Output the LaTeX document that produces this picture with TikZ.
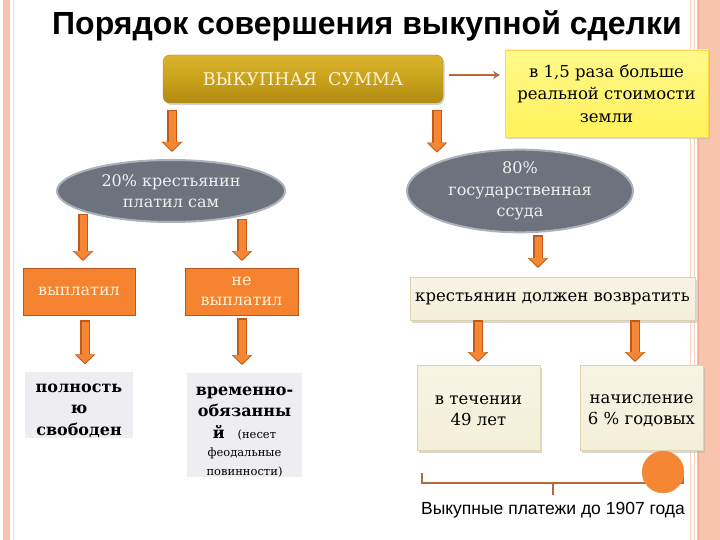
\documentclass[tikz,border=0pt]{standalone}
\usepackage{fontspec}
\setmainfont{DejaVu Serif}
\newfontfamily\sansf{Liberation Sans}
\usetikzlibrary{arrows.meta,shapes.geometric,shadows,calc}
\definecolor{salmon}{HTML}{F9C4AE}
\definecolor{salmonline}{HTML}{F2A88C}
\definecolor{gold}{HTML}{C9A21B}
\definecolor{goldlight}{HTML}{D9B42C}
\definecolor{golddark}{HTML}{B08A12}
\definecolor{yel}{HTML}{FFF25A}
\definecolor{yellight}{HTML}{FFF98A}
\definecolor{ellgray}{HTML}{6C727E}
\definecolor{orfill}{HTML}{F5822E}
\definecolor{ordark}{HTML}{B8581E}
\definecolor{arrfill}{HTML}{F58634}
\definecolor{arredge}{HTML}{C05A1C}
\definecolor{cream}{HTML}{F5EFD9}
\definecolor{creamedge}{HTML}{DDD3AE}
\definecolor{lgray}{HTML}{EDEDF2}
\definecolor{brown}{HTML}{B5693C}
\definecolor{lighttext}{HTML}{FFF3D6}
\begin{document}
\begin{tikzpicture}[x=1pt,y=-1pt,
  every node/.style={inner sep=0pt, outer sep=0pt},
  sumbox/.style={rectangle, rounded corners=7pt, top color=goldlight, bottom color=golddark, middle color=gold,
    draw=golddark, minimum width=280pt, minimum height=48pt,
    drop shadow={shadow xshift=1.5pt, shadow yshift=-2pt, fill=black!35},
    text=lighttext, font=\fontsize{17.5}{21}\selectfont},
  notebox/.style={rectangle, top color=yellight, bottom color=yel, draw=yel!80!orange,
    minimum width=203pt, minimum height=87pt, align=center,
    drop shadow={shadow xshift=2pt, shadow yshift=-2.5pt, fill=black!30},
    font=\fontsize{16.5}{22.5}\selectfont},
  ell/.style={ellipse, fill=ellgray, draw=ellgray!55!white, line width=2pt, align=center,
    text=white!94!black, font=\fontsize{16}{21.5}\selectfont},
  orbox/.style={rectangle, fill=orfill, draw=ordark, line width=0.8pt, align=center,
    minimum width=112pt, minimum height=47pt, text=lighttext, font=\fontsize{16}{20}\selectfont},
  graybox/.style={rectangle, fill=lgray, align=center, minimum width=108pt,
    font=\bfseries\fontsize{16}{21.5}\selectfont},
  creambox/.style={rectangle, top color=cream!70!white, bottom color=cream, draw=creamedge, line width=0.6pt,
    align=center, drop shadow={shadow xshift=2pt, shadow yshift=-2.5pt, fill=black!30},
    font=\fontsize{16.5}{21}\selectfont},
  barrowbg/.style={draw=arredge, line width=10pt, -{Triangle[width=20pt,length=10pt]}},
  barrow/.style={draw=arrfill, line width=7pt, -{Triangle[width=17pt,length=8.5pt]}},
  brownarrow/.style={draw=brown, line width=2.5pt, -{Stealth[length=7pt,width=8pt]}},
  bracket/.style={draw=brown, line width=1.2pt}
]
\useasboundingbox (0,0) rectangle (720,540);
\fill[white] (0,0) rectangle (720,540);
% decorative frame
\fill[salmon] (3,0) rectangle (10,540);
\draw[salmon!60!white, line width=1pt] (13.5,0) -- (13.5,540);
\draw[salmon!70!white, line width=1pt] (690,0) -- (690,540);
\draw[salmon!80!white, line width=1pt] (694,0) -- (694,540);
\fill[salmon] (697,0) rectangle (720,540);
\draw[salmonline, line width=1pt] (698,0) -- (698,540);

% title
\node (title) at (367,26) {\sansf\bfseries\fontsize{32}{36}\selectfont Порядок совершения выкупной сделки};

% main nodes
\node[sumbox] (sum) at (303,79) {ВЫКУПНАЯ\ \ СУММА};
\node[notebox] (note) at (606.5,93.5) {в 1,5 раза больше\\реальной стоимости\\земли};
\node[ell, minimum width=228pt, minimum height=62pt] (e1) at (171,191) {20\% крестьянин\\платил сам};
\node[ell, minimum width=226pt, minimum height=62pt] (e2) at (520,191) {80\%\\государственная\\ссуда};
\node[orbox] (b1) at (79,291.5) {выплатил};
\node[orbox, minimum width=113pt] (b2) at (241.5,291.5) {не\\выплатил};
\node[graybox, minimum height=64pt] (g1) at (79,405) {\rule{0pt}{20pt}полность\\ю\\свободен};
\node[graybox, minimum width=115pt, minimum height=104pt] (g2) at (244.5,425)
  {\rule{0pt}{22pt}временно-\\обязанны\\й {\mdseries\fontsize{11.5}{18}\selectfont\ \ (несет}\\[-3pt]
   {\mdseries\fontsize{11.5}{18}\selectfont феодальные}\\[-3pt]
   {\mdseries\fontsize{11.5}{18}\selectfont повинности)}};
\node[creambox, minimum width=285pt, minimum height=43pt] (k) at (552.5,298.5) {крестьянин должен возвратить};
\node[creambox, minimum width=123pt, minimum height=85pt] (c1) at (478.5,407.5) {\rule{0pt}{15pt}в течении\\49 лет};
\node[creambox, minimum width=123pt, minimum height=85pt] (c2) at (641.5,407.5) {\rule{0pt}{15pt}начисление\\6 \% годовых};

% bracket and caption
\coordinate (brL) at (422,473);
\coordinate (brR) at (683,473);
\coordinate (brM) at (553,483);
\draw[bracket] (brL) -- (422,483) -- (683,483) -- (brR);
\draw[bracket] (brM) -- (553,495);
\node[circle, fill=arrfill, draw=arrfill!85!white, minimum size=42pt] (dot) at (663,472) {};
\node (cap) at (553,510) {\sansf\fontsize{17.5}{20}\selectfont Выкупные платежи до 1907 года};

% brown arrow
\path ([xshift=6pt,yshift=4pt]sum.east) coordinate (ba);
\draw[brownarrow] (ba) -- ([xshift=-5pt]note.west |- ba);

% block arrows
\foreach \s/\sx/\sy/\t/\ty/\sa/\sb in {
  sum.south/-131/0/e1.north/0/7/8,
  sum.south/134/0/e2.north/-3/7/0,
  e1.south/-88/8/b1.north/0/0/7,
  e1.south/71/3/b2.north/0/0/7,
  b1.south/6/0/g1.north/0/5/8,
  b2.south/0.5/0/g2.north/0/3/8,
  e2.south/18/-3/k.north/0/0/9,
  k.south/-74.5/0/c1.north/0/0/3,
  k.south/82.5/0/c2.north/0/0/3}
{
  \path ([xshift=\sx pt, yshift=\sy pt]\s) coordinate (As) ([yshift=\ty pt]\t) coordinate (At);
  \draw[barrowbg, shorten <=\sa pt, shorten >=\sb pt] (As) -- (As |- At);
  \draw[barrow, shorten <=\sa pt+1.5pt, shorten >=\sb pt+1.5pt] (As) -- (As |- At);
}
\end{tikzpicture}
\end{document}
